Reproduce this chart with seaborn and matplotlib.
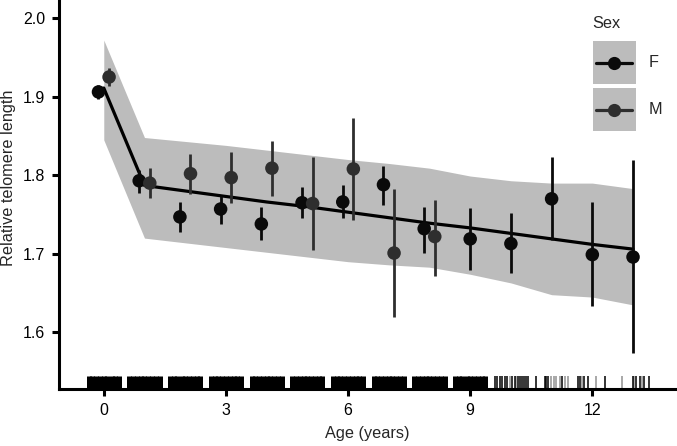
import numpy as np
import pandas as pd
import matplotlib
matplotlib.use("Agg")
import matplotlib.pyplot as plt
import seaborn as sns
from matplotlib.patches import Rectangle
from matplotlib.lines import Line2D
from matplotlib.legend_handler import HandlerBase

# ---------------- data ----------------
fit_age = [0, 1, 2, 3, 4, 5, 6, 7, 8, 9, 10, 11, 12, 13]
fit_val = [1.911, 1.787, 1.780, 1.773, 1.766, 1.760, 1.753, 1.746, 1.739, 1.733, 1.726, 1.719, 1.712, 1.706]
ci_low = [1.845, 1.720, 1.714, 1.708, 1.702, 1.696, 1.690, 1.686, 1.683, 1.674, 1.663, 1.648, 1.645, 1.635]
ci_high = [1.972, 1.848, 1.843, 1.838, 1.832, 1.826, 1.820, 1.815, 1.809, 1.799, 1.793, 1.790, 1.790, 1.783]

f_age = [0, 1, 2, 3, 4, 5, 6, 7, 8, 9, 10, 11, 12, 13]
f_mean = [1.906, 1.793, 1.747, 1.757, 1.738, 1.765, 1.766, 1.788, 1.732, 1.719, 1.713, 1.770, 1.699, 1.696]
f_lo = [1.897, 1.778, 1.728, 1.738, 1.718, 1.746, 1.746, 1.762, 1.701, 1.680, 1.675, 1.718, 1.633, 1.574]
f_hi = [1.915, 1.807, 1.766, 1.774, 1.759, 1.785, 1.788, 1.812, 1.760, 1.758, 1.752, 1.823, 1.766, 1.820]

m_age = [0, 1, 2, 3, 4, 5, 6, 7, 8]
m_mean = [1.925, 1.790, 1.802, 1.797, 1.809, 1.764, 1.808, 1.701, 1.722]
m_lo = [1.914, 1.771, 1.776, 1.765, 1.774, 1.705, 1.743, 1.620, 1.672]
m_hi = [1.936, 1.809, 1.827, 1.829, 1.844, 1.823, 1.873, 1.783, 1.769]

sex_labels = ["F", "M"]

# individual ages shown in the rug
rug_dense = [
    -0.37, -0.28, -0.19, -0.09, 0.00, 0.09, 0.19, 0.28, 0.37,
    0.63, 0.72, 0.81, 0.91, 1.00, 1.09, 1.19, 1.28, 1.37,
    1.63, 1.72, 1.81, 1.91, 2.00, 2.09, 2.19, 2.28, 2.37,
    2.63, 2.72, 2.81, 2.91, 3.00, 3.09, 3.19, 3.28, 3.37,
    3.63, 3.72, 3.81, 3.91, 4.00, 4.09, 4.19, 4.28, 4.37,
    4.63, 4.72, 4.81, 4.91, 5.00, 5.09, 5.19, 5.28, 5.37,
    5.63, 5.72, 5.81, 5.91, 6.00, 6.09, 6.19, 6.28, 6.37,
    6.63, 6.72, 6.81, 6.91, 7.00, 7.09, 7.19, 7.28, 7.37,
    7.63, 7.72, 7.81, 7.91, 8.00, 8.09, 8.19, 8.28, 8.37,
    8.63, 8.72, 8.81, 8.91, 9.00, 9.09, 9.19, 9.28, 9.37,
]
rug_sparse_dark = [9.62, 9.67, 9.73, 9.79, 9.85, 9.91, 10.03, 10.09, 10.17, 10.22, 10.27,
                   10.32, 10.37, 10.41, 10.62, 10.83, 10.87, 10.92, 11.25, 11.64, 11.70,
                   11.80, 11.90, 12.30, 12.99, 13.08, 13.18, 13.28, 13.38]
rug_sparse_light = [9.97, 10.12, 10.98, 11.05, 11.12, 11.20, 11.32, 11.40, 11.75,
                    12.10, 12.73, 13.03, 13.23]

# ---------------- style ----------------
sns.set_style("ticks")
plt.rcParams["font.family"] = ["Liberation Sans", "DejaVu Sans"]

F_COL = "#0a0a0a"
M_COL = "#2e2e2e"
RIB_COL = "#bcbcbc"
palette = {"F": F_COL, "M": M_COL}

W, H = 677, 446
fig = plt.figure(figsize=(W / 100, H / 100), dpi=100)
ax = fig.add_axes([59 / W, 1 - 389 / H, 1 - 59 / W, 389 / H])

# ribbon + fitted line
ax.fill_between(fit_age, ci_low, ci_high, color=RIB_COL, lw=0, zorder=0)
sns.lineplot(x=fit_age, y=fit_val, color="black", lw=2.3, ax=ax, zorder=2)

# points
df_f = pd.DataFrame({"Age": f_age, "Mean": f_mean, "Lo": f_lo, "Hi": f_hi, "Sex": "F"})
df_m = pd.DataFrame({"Age": m_age, "Mean": m_mean, "Lo": m_lo, "Hi": m_hi, "Sex": "M"})
df = pd.concat([df_f, df_m], ignore_index=True)
counts = df.groupby("Age")["Sex"].transform("count")
dodge = {"F": -0.13, "M": 0.13}
df["xpos"] = df["Age"] + np.where(counts > 1, df["Sex"].map(dodge), 0.0)

for sex in sex_labels:
    sub = df[df["Sex"] == sex]
    ax.vlines(sub["xpos"], sub["Lo"], sub["Hi"], color=palette[sex], lw=2.0, zorder=3)
sns.scatterplot(data=df, x="xpos", y="Mean", hue="Sex", palette=palette, s=95,
                edgecolor="none", linewidth=0, legend=False, ax=ax, zorder=4)

# rug
sns.rugplot(x=rug_dense, height=0.034, color="black", linewidth=3.6, alpha=1.0,
            expand_margins=False, ax=ax)
sns.rugplot(x=rug_sparse_dark, height=0.034, color="black", linewidth=1.3, alpha=0.85,
            expand_margins=False, ax=ax)
sns.rugplot(x=rug_sparse_light, height=0.034, color="black", linewidth=1.2, alpha=0.4,
            expand_margins=False, ax=ax)

# axes
ax.set_xlim(-1.1, 14.08)
ax.set_ylim(1.528, 2.023)
ax.set_xticks([0, 3, 6, 9, 12])
ax.set_yticks([1.6, 1.7, 1.8, 1.9, 2.0])
ax.set_yticklabels(["1.6", "1.7", "1.8", "1.9", "2.0"])
for s in ["top", "right"]:
    ax.spines[s].set_visible(False)
for s in ["left", "bottom"]:
    ax.spines[s].set_linewidth(2.2)
    ax.spines[s].set_color("black")
ax.tick_params(axis="both", direction="out", length=5, width=2.2, colors="black",
               labelsize=11.5, pad=5)
ax.set_xlabel("Age (years)", fontsize=11.7)
ax.set_ylabel("Relative telomere length", fontsize=11.7)
ax.xaxis.set_label_coords(0.499, -0.096)
ax.yaxis.set_label_coords(-0.069, (389 - 178) / 389)


# legend: grey key box with a centred line + point
class KeyHandler(HandlerBase):
    def create_artists(self, legend, orig_handle, xdescent, ydescent, width, height,
                       fontsize, trans):
        col = orig_handle.get_color()
        x0, y0 = -xdescent, -ydescent
        yc = y0 + height / 2
        rect = Rectangle((x0, y0), width, height, facecolor=RIB_COL, edgecolor="none",
                         transform=trans)
        ln = Line2D([x0 + 0.08 * width, x0 + 0.92 * width], [yc, yc], color=col,
                    lw=2.3, transform=trans)
        mk = Line2D([x0 + width / 2], [yc], marker="o", markersize=9.5, color=col,
                    markeredgewidth=0, linestyle="none", transform=trans)
        return [rect, ln, mk]


handles = [Line2D([], [], color=palette[s]) for s in sex_labels]
leg = ax.legend(handles, sex_labels, handler_map={Line2D: KeyHandler()},
                handlelength=2.64, handleheight=3.7, labelspacing=0.26,
                handletextpad=0.8, fontsize=11.7, frameon=False, loc="upper left",
                borderpad=0, borderaxespad=0,
                bbox_to_anchor=(593 / W, 1 - 41 / H), bbox_transform=fig.transFigure)
fig.text(592 / W, 1 - 23 / H, "Sex", ha="left", va="center", fontsize=11.7)

fig.savefig("out.png", dpi=100)
